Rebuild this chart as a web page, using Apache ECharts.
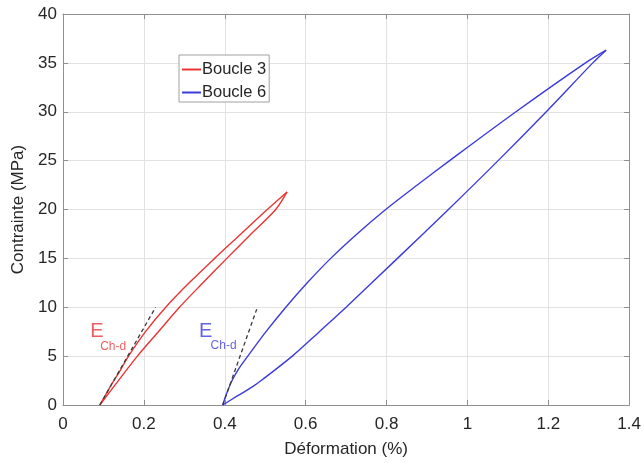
<!DOCTYPE html>
<html><head><meta charset="utf-8">
<script src="https://cdn.jsdelivr.net/npm/echarts@6/dist/echarts.min.js"></script>
<style>html,body{margin:0;padding:0;background:#fff}#c{width:644px;height:463px}</style>
</head><body><div id="c"></div>
<script>
// Data (strain %, stress MPa), each branch listed from the origin to the peak
const boucle3Upper = [[0.091,0],[0.105,1.0],[0.12,2.1],[0.141,3.5],[0.162,5],[0.204,7.5],[0.254,10],[0.312,12.5],[0.375,15],[0.44,17.5],[0.505,20],[0.554,21.8]];
const boucle3Lower = [[0.091,0],[0.137,2.5],[0.184,5],[0.236,7.5],[0.288,10],[0.346,12.5],[0.405,15],[0.465,17.5],[0.526,20],[0.554,21.8]];
const boucle6Upper = [[0.395,0],[0.403,1.0],[0.418,2.5],[0.436,3.8],[0.457,5],[0.502,7.5],[0.551,10],[0.604,12.5],[0.662,15],[0.727,17.5],[0.798,20],[0.876,22.5],[0.956,25],[1.12,30],[1.292,35],[1.343,36.3]];
const boucle6Lower = [[0.395,0],[0.43,0.9],[0.47,1.9],[0.49,2.5],[0.567,5],[0.634,7.5],[0.70,10],[0.827,15],[0.953,20],[1.076,25],[1.195,30],[1.31,35],[1.343,36.3]];
const tangent3 = [[0.091,0],[0.229,10]];
const tangent6 = [[0.395,0],[0.479,9.8]];
// annotation anchors (data coordinates)
const annE3 = [0.0838,7.5], annSub3 = [0.124,6.0];
const annE6 = [0.353,7.5], annSub6 = [0.397,6.05];
const names = ['Boucle 3','Boucle 6'];

const RED = '#ec3434', BLUE = '#3b3bdc', AX = '#8f8f8f', TX = '#262626', GRID = '#e2e2e2';
const FONT = 'Liberation Sans, Arial, sans-serif';
const chart = echarts.init(document.getElementById('c'), null, {renderer:'canvas'});
const baseAxis = {
  axisLine:{show:true, onZero:false, lineStyle:{color:AX, width:1}},
  axisTick:{show:true, inside:true, length:5, lineStyle:{color:AX}},
  splitLine:{show:false}
};
function txt(text, size, color, at){
  return {type:'scatter', data:[at], symbolSize:0, silent:true,
    label:{show:true, position:'inside', formatter:text, fontSize:size, color:color, fontFamily:FONT}};
}
function branch(name, data, color){
  return {name:name, type:'line', data:data, showSymbol:false, smooth:0.3,
    lineStyle:{color:color, width:1.4}, itemStyle:{color:color}};
}
chart.setOption({
  animation:false,
  textStyle:{fontFamily:FONT},
  grid:{left:63, right:13, top:14, bottom:55, show:false},
  legend:{
    data:names, left:179, top:55, orient:'vertical', itemGap:6,
    icon:'rect', itemWidth:19, itemHeight:2,
    backgroundColor:'#fff', borderColor:'#a0a0a0', borderWidth:1, borderRadius:0,
    padding:[6,3,1,3],
    textStyle:{fontSize:16.5, color:TX, fontFamily:FONT, padding:[0,0,0,-4]}
  },
  xAxis:[
    Object.assign({}, baseAxis, {type:'value', min:0, max:1.4, interval:0.2, position:'bottom',
      name:'Déformation (%)', nameLocation:'middle', nameGap:36,
      nameTextStyle:{fontSize:17, color:TX, fontFamily:FONT},
      axisLabel:{fontSize:17, color:TX, margin:11, fontFamily:FONT},
      splitLine:{show:true, lineStyle:{color:GRID, width:1}}}),
    Object.assign({}, baseAxis, {type:'value', min:0, max:1.4, interval:0.2, position:'top', axisLabel:{show:false}}),
  ],
  yAxis:[
    Object.assign({}, baseAxis, {type:'value', min:0, max:40, interval:5, position:'left',
      name:'Contrainte (MPa)', nameLocation:'middle', nameGap:33,
      nameTextStyle:{fontSize:17, color:TX, fontFamily:FONT},
      axisLabel:{fontSize:17, color:TX, margin:6, fontFamily:FONT},
      splitLine:{show:true, lineStyle:{color:GRID, width:1}}}),
    Object.assign({}, baseAxis, {type:'value', min:0, max:40, interval:5, position:'right', axisLabel:{show:false}}),
  ],
  series:[
    branch(names[0], boucle3Upper, RED),
    branch(names[0], boucle3Lower, RED),
    branch(names[1], boucle6Upper, BLUE),
    branch(names[1], boucle6Lower, BLUE),
    {type:'line', data:tangent3, showSymbol:false, silent:true, lineStyle:{color:'#3a3a3a', width:1.3, type:[4,3]}},
    {type:'line', data:tangent6, showSymbol:false, silent:true, lineStyle:{color:'#3a3a3a', width:1.3, type:[4,3]}},
    txt('E', 20, RED, annE3), txt('Ch-d', 12, RED, annSub3),
    txt('E', 20, BLUE, annE6), txt('Ch-d', 12, BLUE, annSub6)
  ]
});
</script></body></html>
